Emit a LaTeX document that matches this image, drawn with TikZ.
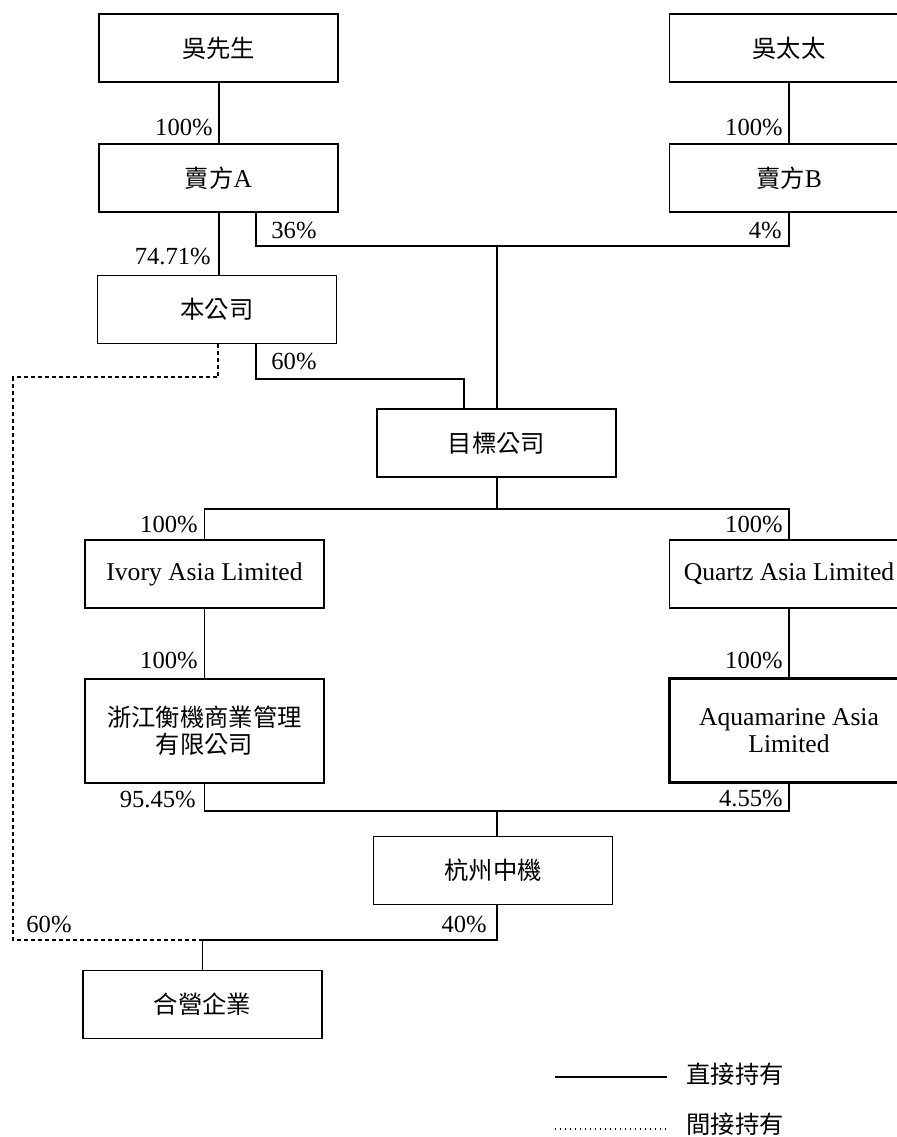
\documentclass[tikz,border=0pt]{standalone}
\usepackage{fontspec}
\setmainfont{Liberation Serif}
\newfontfamily\cjk[Scale=0.95]{Noto Sans CJK TC}
\usetikzlibrary{calc}
\tikzset{
	entity/.style={draw, line width=0.9pt, minimum width=119.5pt, minimum height=34pt, inner sep=0pt, outer sep=0pt, align=center},
	tall/.style={minimum height=52pt, line width=1.1pt},
	share/.style={inner sep=0pt, font=\fontsize{12.3}{14}\selectfont},
	direct/.style={line width=0.9pt},
	indirect/.style={line width=0.9pt, dash pattern=on 2pt off 1.5pt},
	dotline/.style={line width=0.6pt, dash pattern=on 0.6pt off 1.9pt}
}
\begin{document}
\begin{tikzpicture}[x=0.5pt, y=-0.5pt, font=\fontsize{12.8}{13.5}\selectfont]
			%%%%% START %%%%%
			\useasboundingbox (0, 0) rectangle (897, 1137);
			
			% boxes
			\node[entity] (mrwu) at (218.5, 48) {\cjk 吳先生};
			\node[entity] (sellera) at (218.5, 178) {{\cjk 賣方}A};
			\node[entity] (company) at (217, 309.5) {\cjk 本公司};
			\node[entity] (mrswu) at (789, 48) {\cjk 吳太太};
			\node[entity] (sellerb) at (789, 178) {{\cjk 賣方}B};
			\node[entity] (target) at (496.5, 443) {\cjk 目標公司};
			\node[entity] (ivory) at (204.5, 574) {Ivory Asia Limited};
			\node[entity] (quartz) at (789, 574) {Quartz Asia Limited};
			\node[entity, tall] (zhejiang) at (204.5, 731) {\cjk 浙江衡機商業管理\\\cjk 有限公司};
			\node[entity, tall] (aqua) at (789, 730.5) {Aquamarine Asia\\Limited};
			\node[entity] (hangzhou) at (493, 870.5) {\cjk 杭州中機};
			\node[entity] (jv) at (202.5, 1004.5) {\cjk 合營企業};
			
			% junctions
			\coordinate (midx) at (497, 0);
			\coordinate (ja) at (256, 246);
			\coordinate (jb) at (789, 246);
			\coordinate (jc) at (256, 379);
			\coordinate (jd) at (464, 379);
			\coordinate (dd) at (218, 377);
			\coordinate (de) at (13, 377);
			\coordinate (df) at (13, 940);
			\coordinate (jj) at (202.5, 940);
			\coordinate (jm) at (497, 509);
			\coordinate (jn) at (497, 811);
			
			% direct holdings
			\draw[direct] (mrwu.south -| 219, 0) -- (sellera.north -| 219, 0);
			\draw[direct] (mrswu) -- (sellerb);
			\draw[direct] (sellera.south -| 219, 0) -- (company.north -| 219, 0);
			\draw[direct] (sellera.south -| ja) -- (ja) -- (jb) -- (sellerb.south);
			\draw[direct] (ja -| midx) -- (target.north -| midx);
			\draw[direct] (company.south -| jc) -- (jc) -- (jd) -- (target.north -| jd);
			\draw[direct] (target.south -| midx) -- (jm);
			\draw[direct] (ivory.north) -- (ivory.north |- jm) -- (quartz.north |- jm) -- (quartz.north);
			\draw[direct] (ivory) -- (zhejiang);
			\draw[direct] (quartz) -- (aqua);
			\draw[direct] (zhejiang.south) -- (zhejiang.south |- jn) -- (aqua.south |- jn) -- (aqua.south);
			\draw[direct] (jn) -- (hangzhou.north -| midx);
			\draw[direct] (hangzhou.south -| midx) -- (jj -| midx) -- (jj);
			\draw[direct] (jj) -- (jv.north);
			
			% indirect holding
			\draw[indirect] (company.south -| dd) -- (dd) -- (de) -- (df) -- (jj);
			
			% shares
			\node[share, anchor=base east] (p1) at (213, 135) {100\%};
			\node[share, anchor=base east] (p2) at (783, 135) {100\%};
			\node[share, anchor=base west] (p3) at (271, 238) {36\%};
			\node[share, anchor=base east] (p4) at (782, 238) {4\%};
			\node[share, anchor=base east] (p5) at (211, 264) {74.71\%};
			\node[share, anchor=base west] (p6) at (271, 369) {60\%};
			\node[share, anchor=base east] (p7) at (198, 532) {100\%};
			\node[share, anchor=base east] (p8) at (783, 532) {100\%};
			\node[share, anchor=base east] (p9) at (198, 668) {100\%};
			\node[share, anchor=base east] (p10) at (783, 668) {100\%};
			\node[share, anchor=base east] (p11) at (196, 807) {95.45\%};
			\node[share, anchor=base east] (p12) at (783, 806) {4.55\%};
			\node[share, anchor=base east] (p13) at (487, 932) {40\%};
			\node[share, anchor=base west] (p14) at (26, 932) {60\%};
			
			% legend
			\coordinate (la) at (555, 1077);
			\coordinate (lb) at (667, 1077);
			\coordinate (lc) at (555, 1129);
			\coordinate (ld) at (667, 1129);
			\draw[direct] (la) -- (lb);
			\draw[dotline] (lc) -- (ld);
			\node[anchor=west, inner sep=0pt] (direct) at (686, 1074) {\cjk 直接持有};
			\node[anchor=west, inner sep=0pt] (indirect) at (686, 1124) {\cjk 間接持有};
			
			%%%%% END %%%%%
		\end{tikzpicture}
\end{document}
